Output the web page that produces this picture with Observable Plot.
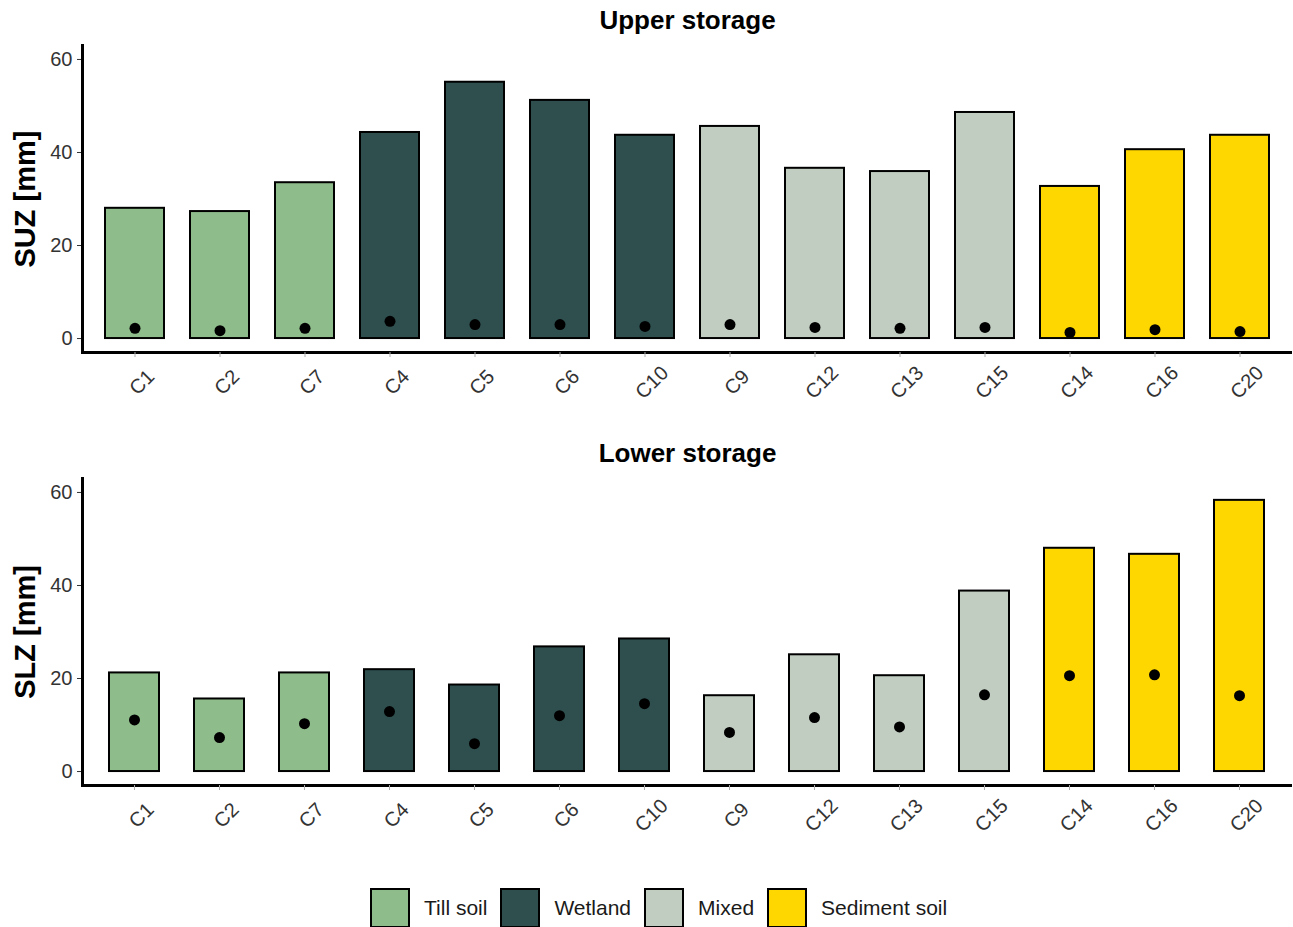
<!DOCTYPE html>
<html>
<head>
<meta charset="utf-8">
<script src="https://cdn.jsdelivr.net/npm/d3@7"></script>
<script src="https://cdn.jsdelivr.net/npm/@observablehq/plot@0.6"></script>
<style>
  html, body { margin: 0; padding: 0; background: #ffffff; }
  body { width: 1293px; height: 927px; overflow: hidden; font-family: "Liberation Sans", Arial, sans-serif; }
  svg { display: block; }
  #legend { display: flex; align-items: center; margin-top: 25px; padding-left: 370px; }
  .item { display: flex; align-items: center; margin-right: 13px; }
  .box { width: 36px; height: 36px; border: 2px solid #000; }
  .lab { margin-left: 14px; font-size: 21px; color: #1a1a1a; }
</style>
</head>
<body>
<div id="top"></div>
<div id="bottom" style="margin-top:3px"></div>
<div id="legend"></div>
<script>
const catchments = ["C1","C2","C7","C4","C5","C6","C10","C9","C12","C13","C15","C14","C16","C20"];
const soilType = ["Till soil","Till soil","Till soil","Wetland","Wetland","Wetland","Wetland","Mixed","Mixed","Mixed","Mixed","Sediment soil","Sediment soil","Sediment soil"];
const soilTypes = ["Till soil","Wetland","Mixed","Sediment soil"];
const soilColors = ["#8FBC8B","#2F4F4F","#C1CDC1","#FFD700"];

// Upper storage (SUZ)
const suzBar = [28.0, 27.3, 33.5, 44.3, 55.1, 51.2, 43.7, 45.6, 36.6, 35.9, 48.6, 32.7, 40.6, 43.7];
const suzDot = [2.2, 1.7, 2.2, 3.7, 3.0, 3.0, 2.6, 3.0, 2.4, 2.2, 2.4, 1.3, 1.9, 1.5];
// Lower storage (SLZ)
const slzBar = [21.2, 15.6, 21.2, 21.9, 18.6, 26.8, 28.5, 16.3, 25.1, 20.6, 38.8, 48.0, 46.7, 58.3];
const slzDot = [11.1, 7.3, 10.3, 12.9, 6.0, 12.0, 14.6, 8.4, 11.6, 9.6, 16.5, 20.6, 20.8, 16.3];

const yTicks = [0, 20, 40, 60];

function panel(title, ylabel, bars, dots, pi, po) {
  const data = catchments.map((c, i) => ({c, soil: soilType[i], v: bars[i], d: dots[i]}));
  return Plot.plot({
    width: 1293, height: 430,
    marginLeft: 82, marginRight: 1, marginTop: 45, marginBottom: 78,
    style: {fontFamily: "'Liberation Sans', Arial, sans-serif", fontSize: "20px", color: "#333", background: "white"},
    x: {type: "band", domain: catchments, paddingInner: pi, paddingOuter: po, axis: null},
    y: {domain: [-3, 63], ticks: yTicks, label: null, tickSize: 5, tickPadding: 5},
    color: {domain: soilTypes, range: soilColors},
    marks: [
      Plot.barY(data, {x: "c", y: "v", fill: "soil", stroke: "black", strokeWidth: 2}),
      Plot.dot(data, {x: "c", y: "d", r: 5.5, fill: "black"}),
      Plot.ruleY([-3], {stroke: "black", strokeWidth: 3}),
      Plot.frame({anchor: "left", stroke: "black", strokeWidth: 3}),
      Plot.axisX({tickSize: 5, tickFormat: () => "", stroke: "#aaa", label: null}),
      Plot.text(catchments, {x: d => d, text: d => d, frameAnchor: "bottom", dx: 7, dy: 30, rotate: -45, textAnchor: "middle", lineAnchor: "middle", fontSize: 20, fill: "#333"}),
      Plot.text([title], {text: d => d, frameAnchor: "top", lineAnchor: "middle", dy: -25, fontSize: 26, fontWeight: "bold", fill: "black"}),
      Plot.text([ylabel], {text: d => d, frameAnchor: "left", textAnchor: "middle", lineAnchor: "middle", dx: -57, rotate: -90, fontSize: 29, fontWeight: "bold", fill: "black"})
    ]
  });
}

document.getElementById("top").append(panel("Upper storage", "SUZ [mm]", suzBar, suzDot, 0.31, 0.255));
document.getElementById("bottom").append(panel("Lower storage", "SLZ [mm]", slzBar, slzDot, 0.41, 0.305));

const legend = document.getElementById("legend");
soilTypes.forEach((s, i) => {
  const item = document.createElement("div");
  item.className = "item";
  const box = document.createElement("div");
  box.className = "box";
  box.style.background = soilColors[i];
  const lab = document.createElement("span");
  lab.className = "lab";
  lab.textContent = s;
  item.append(box, lab);
  legend.append(item);
});
</script>
</body>
</html>
